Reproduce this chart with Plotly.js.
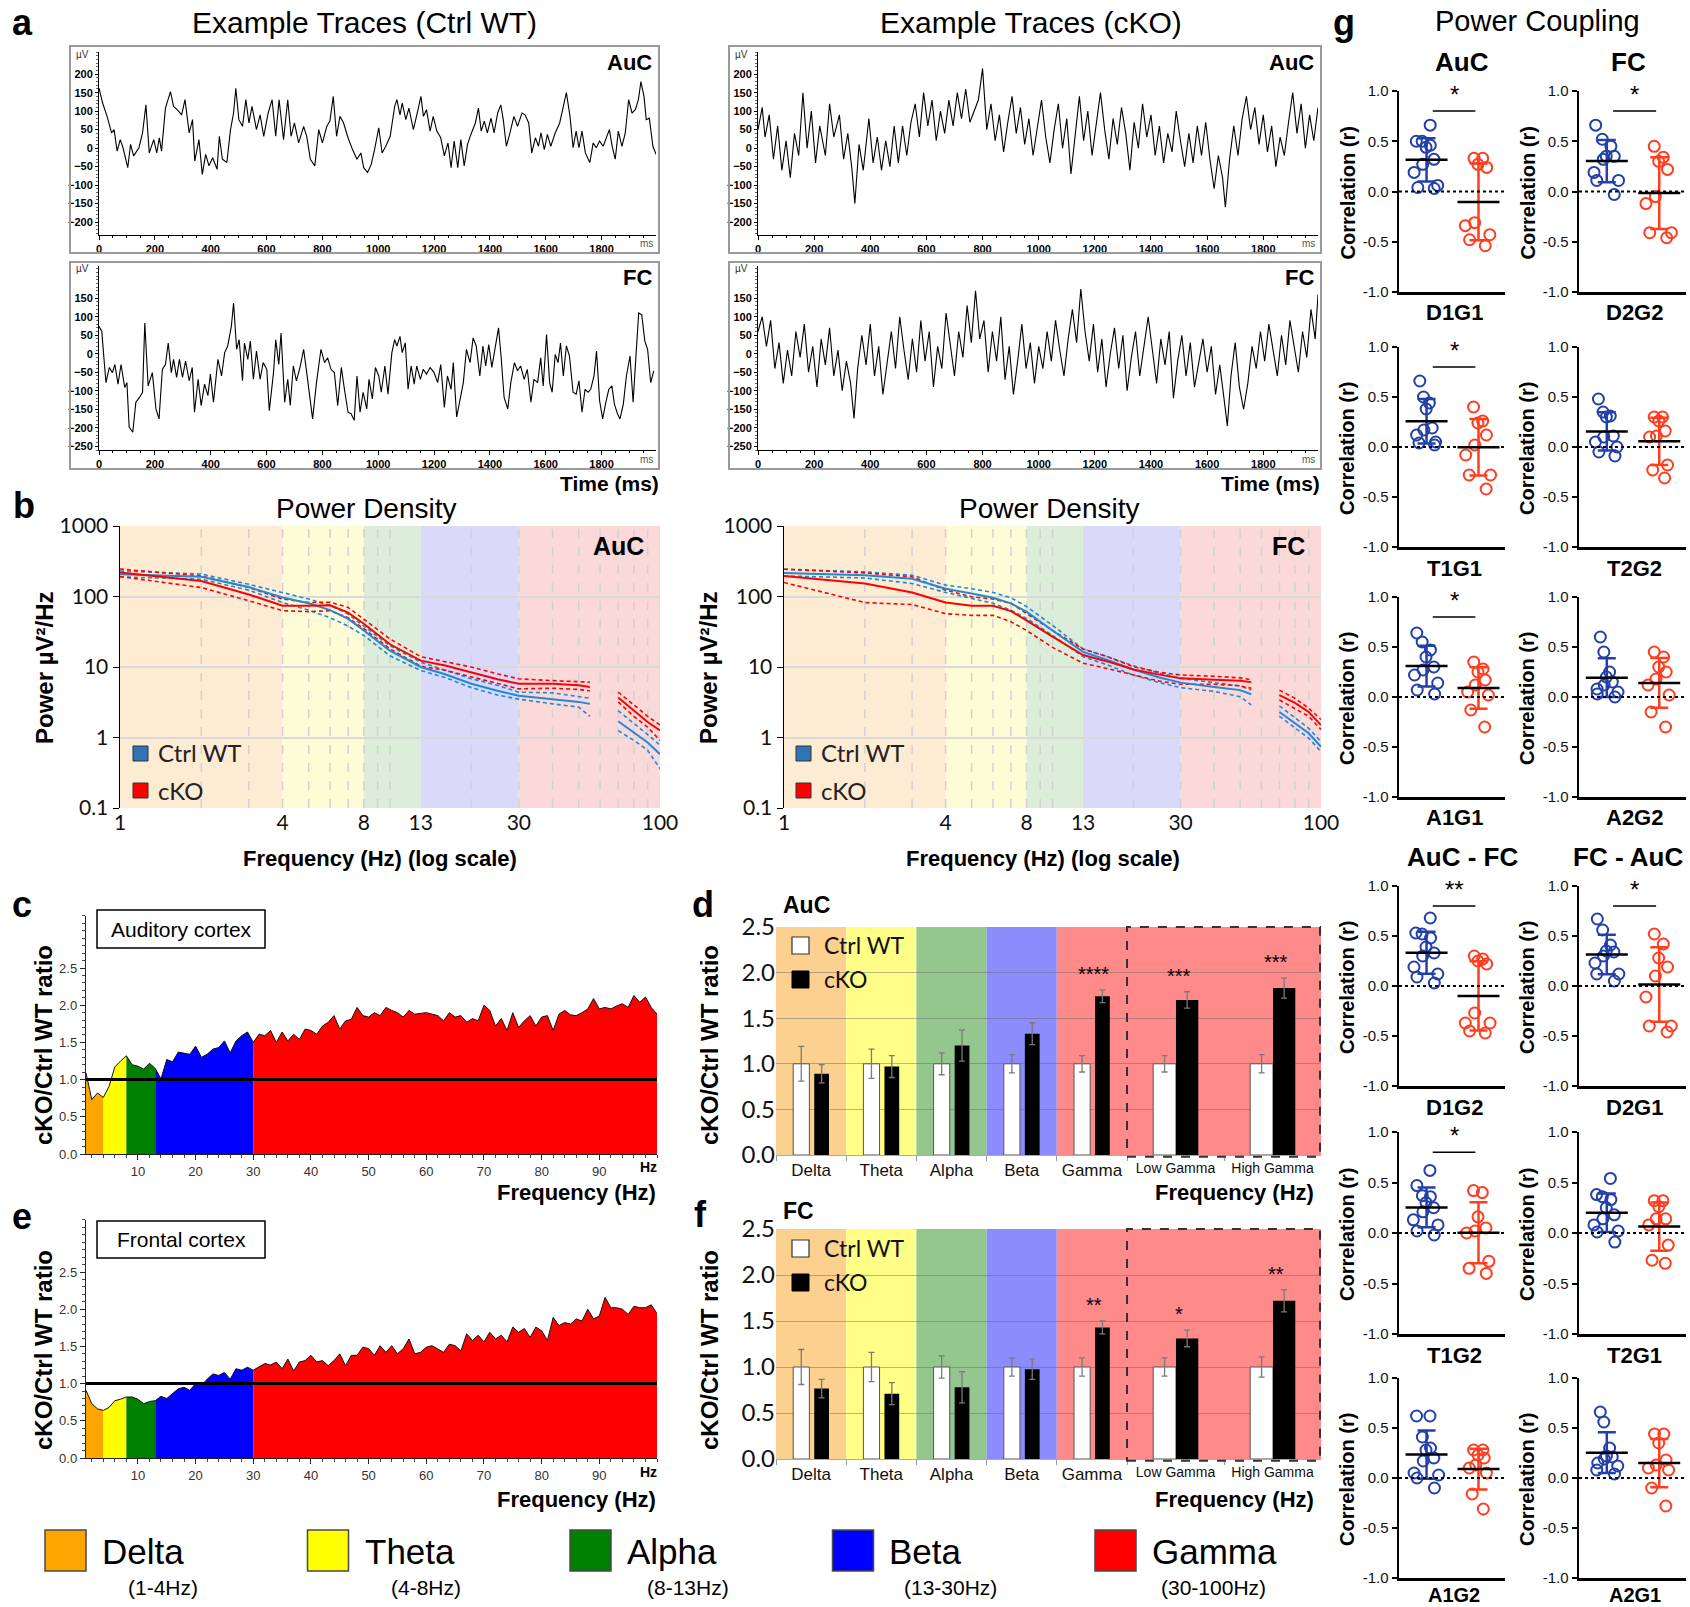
<!DOCTYPE html>
<html>
<head>
<meta charset="utf-8">
<script src="https://cdn.plot.ly/plotly-3.0.1.min.js"></script>
<style>html,body{margin:0;padding:0;background:#fff;}#chart{width:1690px;height:1607px;}</style>
</head>
<body>
<div id="chart"></div>
<script>
/* ================= DATA ================= */
// a: example traces  [time (ms), amplitude (µV)]
const traceWtAuc = [[0,162],[13,122],[29,86],[45,41],[54,50],[65,-8],[76,23],[86,1],[103,-53],[113,10],[124,-21],[143,1],[156,41],[168,117],[180,-13],[196,23],[207,-13],[216,28],[224,-8],[238,108],[256,153],[267,113],[280,104],[296,90],[308,131],[323,41],[335,77],[343,-35],[358,23],[370,-71],[382,-17],[394,-48],[407,-26],[423,-57],[431,32],[442,-30],[458,-39],[471,50],[482,95],[490,162],[501,77],[514,59],[526,131],[537,68],[548,113],[564,50],[577,90],[590,32],[606,95],[620,131],[633,32],[645,131],[661,23],[676,131],[688,32],[700,68],[715,14],[733,59],[744,32],[757,-30],[773,-48],[787,50],[800,14],[816,59],[827,73],[839,140],[851,32],[863,86],[876,68],[892,28],[908,-4],[924,-30],[938,-13],[948,-53],[962,-66],[975,-44],[987,-4],[1002,55],[1014,-13],[1027,5],[1043,32],[1059,113],[1067,131],[1078,90],[1086,122],[1099,77],[1110,108],[1126,50],[1141,99],[1153,140],[1162,86],[1173,104],[1186,46],[1197,86],[1210,46],[1224,28],[1237,-21],[1250,14],[1261,-53],[1272,19],[1285,-53],[1296,23],[1308,-48],[1320,10],[1332,37],[1348,68],[1359,108],[1369,46],[1380,73],[1391,41],[1404,81],[1415,41],[1428,95],[1439,117],[1448,77],[1459,5],[1472,41],[1486,86],[1499,59],[1515,95],[1526,90],[1539,68],[1550,-13],[1563,28],[1574,5],[1583,41],[1595,-4],[1606,37],[1618,5],[1634,41],[1650,68],[1663,108],[1674,150],[1687,86],[1698,1],[1709,46],[1719,1],[1730,46],[1742,-13],[1758,-39],[1770,14],[1781,1],[1793,19],[1806,5],[1817,28],[1828,50],[1838,5],[1849,-30],[1860,46],[1873,5],[1885,41],[1897,131],[1909,95],[1921,104],[1932,131],[1941,180],[1952,140],[1960,77],[1971,81],[1984,5],[1995,-17]];
const traceWtFc = [[0,74],[10,61],[17,-6],[25,-78],[37,-37],[48,-51],[57,-29],[68,-82],[79,-29],[92,-91],[100,-78],[108,-198],[121,-212],[132,-131],[145,-118],[156,-104],[164,83],[176,-87],[191,-51],[204,-149],[215,-176],[227,-42],[238,-29],[248,29],[259,-51],[267,-15],[278,-64],[288,-15],[299,-64],[310,-20],[323,-73],[334,-37],[342,-158],[355,-69],[366,-140],[378,-82],[390,-113],[399,-55],[410,-131],[426,-15],[439,-60],[450,3],[461,21],[474,74],[482,137],[493,12],[502,38],[514,-73],[521,29],[533,-15],[542,34],[553,-69],[564,7],[577,-69],[588,-24],[601,-42],[610,-154],[625,-51],[633,38],[644,-29],[652,56],[665,-131],[676,-69],[685,-140],[696,-33],[707,-73],[720,-37],[733,12],[744,-51],[755,-113],[765,-176],[779,-78],[795,12],[808,-24],[819,-11],[831,-42],[843,-51],[855,-140],[868,-37],[879,-96],[892,-158],[903,-162],[914,-180],[924,-60],[935,-158],[946,-104],[959,-149],[967,-69],[979,-122],[990,-37],[1002,-60],[1011,-104],[1024,-33],[1035,-109],[1049,3],[1059,38],[1067,21],[1078,47],[1086,3],[1097,29],[1107,-96],[1118,-33],[1129,-82],[1138,-33],[1151,-69],[1161,-42],[1173,-55],[1186,-37],[1200,-51],[1213,-78],[1224,-29],[1237,-145],[1248,-60],[1261,-96],[1269,-24],[1281,-171],[1293,-127],[1305,-78],[1316,12],[1329,-24],[1340,43],[1351,21],[1364,-60],[1375,21],[1385,-33],[1396,25],[1407,-37],[1420,21],[1431,70],[1440,-6],[1451,-118],[1464,-149],[1475,-78],[1488,-24],[1499,-46],[1510,-33],[1523,-69],[1534,-42],[1547,-131],[1558,-69],[1571,-78],[1582,-11],[1591,-87],[1603,52],[1614,-78],[1623,-104],[1634,-2],[1644,-24],[1653,29],[1663,-60],[1674,21],[1685,-6],[1698,-104],[1709,-109],[1719,-73],[1730,-158],[1741,-96],[1752,-104],[1761,-96],[1773,-60],[1782,7],[1793,-127],[1804,-176],[1814,-136],[1826,-96],[1837,-87],[1846,-136],[1857,-162],[1866,-176],[1878,-136],[1889,-60],[1902,-6],[1913,-131],[1924,3],[1933,110],[1944,105],[1955,34],[1965,12],[1976,-78],[1987,-46]];
const traceKoAuc = [[0,50],[15,110],[25,30],[40,90],[55,-30],[70,60],[85,-60],[100,20],[115,-80],[130,40],[145,-20],[160,150],[175,0],[190,100],[205,-40],[220,60],[240,-20],[255,120],[270,30],[290,90],[305,-30],[320,40],[335,-60],[345,-150],[360,10],[375,-60],[395,80],[410,-40],[425,30],[440,-60],[455,20],[470,-50],[485,60],[500,-40],[515,60],[530,-20],[545,70],[560,120],[575,30],[590,150],[605,60],[620,130],[635,20],[650,100],[665,40],[680,130],[695,60],[710,150],[725,80],[740,160],[755,70],[770,100],[785,130],[800,215],[815,50],[830,120],[845,20],[860,90],[875,-10],[890,70],[905,140],[920,40],[935,110],[950,10],[965,80],[980,-20],[995,60],[1010,130],[1025,30],[1040,-40],[1055,50],[1070,120],[1085,0],[1100,80],[1115,-70],[1130,40],[1145,140],[1160,20],[1175,100],[1190,-20],[1205,60],[1220,150],[1235,50],[1250,-30],[1265,80],[1280,10],[1295,110],[1310,40],[1325,-60],[1340,70],[1355,0],[1370,120],[1385,30],[1400,90],[1415,-20],[1430,60],[1445,-40],[1460,40],[1475,-10],[1490,100],[1505,20],[1520,-50],[1535,40],[1550,-40],[1565,60],[1580,-20],[1595,70],[1610,-30],[1625,-110],[1640,-20],[1655,-80],[1665,-160],[1680,-30],[1695,60],[1710,-20],[1725,80],[1740,140],[1755,50],[1770,110],[1785,10],[1800,90],[1815,-10],[1830,60],[1845,-50],[1860,30],[1875,-20],[1890,70],[1905,150],[1920,40],[1935,120],[1950,0],[1965,90],[1980,20],[1995,110]];
const traceKoFc = [[0,60],[15,100],[30,20],[45,90],[60,-40],[75,30],[90,-80],[105,10],[120,-60],[135,60],[150,-10],[165,80],[180,-50],[195,20],[210,-90],[225,40],[240,-30],[255,70],[270,-60],[285,10],[300,-100],[315,-20],[330,-80],[342,-175],[355,-40],[370,50],[385,-30],[400,80],[415,-60],[430,20],[445,-110],[460,-20],[475,60],[490,-40],[505,100],[520,10],[535,-70],[550,40],[565,-50],[580,90],[595,-20],[610,60],[625,-90],[640,20],[655,-40],[670,110],[685,20],[700,-60],[715,60],[730,-10],[745,130],[760,30],[775,170],[790,40],[805,90],[820,-50],[835,60],[850,-20],[865,100],[880,-70],[895,20],[910,-110],[925,-20],[940,80],[955,-40],[970,30],[985,-80],[1000,20],[1015,-40],[1030,60],[1045,-20],[1060,90],[1075,10],[1090,-60],[1105,40],[1120,120],[1135,30],[1150,175],[1165,60],[1180,-20],[1195,80],[1210,-50],[1225,40],[1240,-90],[1255,0],[1270,70],[1285,-40],[1300,50],[1315,-100],[1330,-10],[1345,60],[1360,-60],[1375,20],[1390,100],[1405,10],[1420,-80],[1435,40],[1450,-30],[1465,60],[1480,-120],[1495,-20],[1510,50],[1525,-60],[1540,30],[1555,-90],[1570,-20],[1585,40],[1600,-50],[1615,20],[1630,-110],[1645,-30],[1660,-120],[1672,-195],[1685,-60],[1700,30],[1715,-90],[1730,-150],[1745,-80],[1760,20],[1775,-40],[1790,60],[1805,-20],[1820,80],[1835,10],[1850,-60],[1865,50],[1880,-30],[1895,90],[1910,20],[1925,-50],[1940,60],[1955,-10],[1970,120],[1985,40],[1995,160]];

// b: power spectral density (µV²/Hz); null = notch gap
const psdFreq = [1,2,3,4,5,6,7,8,10,13,16,20,25,30,40,50,55,60,70,80,90,100];
const psdAucWtMean = [207,190,136,97,80,64,48,33,17,10,7.9,5.8,4.6,3.9,3.5,3.2,3.0,null,1.7,1.18,0.85,0.58];
const psdAucWtUp   = [230,208,149,114,92,75,56,38,20,11.7,9.1,6.8,5.5,4.4,4.3,3.8,3.6,null,2.4,1.6,1.1,0.78];
const psdAucWtLo   = [190,176,123,82,64,50,38,28,14.4,8.9,7.1,5.1,4.0,3.5,3.0,2.7,2.0,null,1.25,0.91,0.66,0.36];
const psdAucKoMean = [219,166,107,74,74,75,59,41,21,12.3,10.5,8.4,6.7,5.8,5.8,5.5,5.2,null,3.7,2.4,1.66,1.26];
const psdAucKoUp   = [245,196,134,92,82,83,70,48,25,14,11.8,10,8,6.8,6.4,6.1,6.1,null,4.4,2.9,2.0,1.5];
const psdAucKoLo   = [192,134,87,63,61,63,50,35,18,10.3,9,7.3,5.9,4.9,5.0,4.8,4.6,null,3.2,2.0,1.4,0.91];
const psdFcWtMean  = [216,200,179,129,110,96,80,61,33,16.4,12.6,9.2,7.1,6.0,5.2,4.7,4.1,null,2.3,1.6,1.15,0.74];
const psdFcWtUp    = [244,224,200,145,129,114,96,72,39,18,14,10.4,8.2,6.9,6.0,5.4,4.7,null,2.8,1.9,1.35,0.87];
const psdFcWtLo    = [196,183,153,114,94,80,64,49,28,14,10.7,7.7,6.0,5.1,4.5,3.8,2.9,null,2.0,1.35,0.98,0.63];
const psdFcKoMean  = [196,153,114,82,74,74,62,46,27,14.8,12,9.2,7.8,6.9,6.6,6.4,6.1,null,4.0,3.1,2.3,1.5];
const psdFcKoUp    = [244,216,190,123,99,92,80,57,33,18,14,10.1,8.4,7.7,7.4,7.0,6.6,null,4.7,3.6,2.6,1.8];
const psdFcKoLo    = [158,82,77,57,54,54,44,33,19,11.3,9.5,7.7,6.3,5.7,5.7,5.4,5.0,null,3.4,2.6,2.0,1.3];
const psdGridFreq  = [2,3,4,5,6,7,8,9,10,20,30,40,50,60,70,80,90];

// c, e: cKO / Ctrl WT power ratio
const ratioFreq = [1,2,3,4,5,6,7,8,9,10,11,12,13,14,15,16,17,18,19,20,21,22,23,24,25,26,27,28,29,30,31,32,33,34,35,36,37,38,39,40,41,42,43,44,45,46,47,48,49,50,51,52,53,54,55,56,57,58,59,60,61,62,63,64,65,66,67,68,69,70,71,72,73,74,75,76,77,78,79,80,81,82,83,84,85,86,87,88,89,90,91,92,93,94,95,96,97,98,99,100];
const ratioAuc = [1.09,0.73,0.82,0.76,0.91,1.17,1.25,1.32,1.20,1.18,1.14,1.22,1.15,1.01,1.27,1.24,1.37,1.36,1.34,1.45,1.30,1.34,1.41,1.43,1.52,1.36,1.52,1.59,1.64,1.50,1.61,1.59,1.66,1.50,1.64,1.52,1.61,1.54,1.68,1.66,1.61,1.72,1.77,1.86,1.68,1.79,1.81,1.97,1.86,1.84,1.90,1.86,1.97,1.93,1.90,1.84,1.93,1.88,1.89,1.90,1.88,1.86,1.79,1.90,1.84,1.86,1.77,1.82,1.79,2.00,1.93,1.72,1.82,1.66,1.90,1.70,1.79,1.86,1.72,1.84,1.86,1.66,1.88,1.93,1.87,1.86,1.90,1.95,2.09,1.95,1.97,1.95,1.99,2.02,1.97,2.13,2.04,2.11,1.97,1.88];
const ratioFc = [0.91,0.73,0.66,0.64,0.68,0.77,0.79,0.82,0.82,0.79,0.73,0.76,0.77,0.83,0.80,0.86,0.93,0.95,0.91,1.00,0.97,1.06,1.13,1.11,1.15,1.06,1.20,1.18,1.22,1.18,1.22,1.27,1.25,1.29,1.20,1.33,1.17,1.29,1.31,1.38,1.29,1.31,1.24,1.31,1.40,1.24,1.38,1.38,1.49,1.47,1.38,1.51,1.42,1.51,1.40,1.47,1.60,1.40,1.42,1.49,1.51,1.47,1.42,1.53,1.51,1.44,1.67,1.58,1.65,1.56,1.69,1.60,1.65,1.56,1.76,1.69,1.74,1.62,1.76,1.71,1.58,1.89,1.78,1.82,1.80,1.87,1.84,2.00,1.87,1.91,2.16,2.02,2.02,2.00,1.93,2.04,2.02,2.02,2.06,1.94];
const bandEdges = [1,4,8,13,30,100];

// d, f: band power ratio (mean, SEM)
const bandNames = ['Delta','Theta','Alpha','Beta','Gamma'];
const gammaSubNames = ['Low Gamma','High Gamma'];
const aucWtMean = [1,1,1,1,1];            const aucWtErr = [0.19,0.16,0.12,0.10,0.09];
const aucKoMean = [0.89,0.97,1.20,1.33,1.74]; const aucKoErr = [0.10,0.12,0.17,0.12,0.07];
const aucSubWtMean = [1,1];               const aucSubWtErr = [0.09,0.10];
const aucSubKoMean = [1.70,1.83];         const aucSubKoErr = [0.09,0.11];
const aucSig = ['','','','','****'];      const aucSubSig = ['***','***'];
const fcWtMean = [1,1,1,1,1];             const fcWtErr = [0.19,0.16,0.12,0.10,0.10];
const fcKoMean = [0.765,0.71,0.78,0.975,1.43]; const fcKoErr = [0.10,0.12,0.17,0.11,0.07];
const fcSubWtMean = [1,1];                const fcSubWtErr = [0.10,0.11];
const fcSubKoMean = [1.31,1.72];          const fcSubKoErr = [0.09,0.12];
const fcSig = ['','','','','**'];         const fcSubSig = ['*','**'];

// g: power coupling correlations (r) per animal
const couplingNames = ['D1G1','D2G2','T1G1','T2G2','A1G1','A2G2','D1G2','D2G1','T1G2','T2G1','A1G2','A2G1'];
const couplingWt = [
 [0.66,0.50,0.50,0.46,0.44,0.32,0.27,0.19,0.06,0.03,0.04],
 [0.66,0.52,0.45,0.35,0.35,0.32,0.19,0.11,0.11,-0.03],
 [0.66,0.50,0.44,0.38,0.19,0.17,0.12,0.05,0.04,0.02],
 [0.48,0.35,0.31,0.30,0.10,0.11,0.05,0.00,-0.05,-0.09],
 [0.64,0.55,0.47,0.40,0.30,0.27,0.22,0.14,0.07,0.03],
 [0.60,0.45,0.25,0.20,0.15,0.12,0.08,0.05,0.03,0.00],
 [0.68,0.53,0.52,0.48,0.39,0.33,0.30,0.19,0.12,0.09,0.03],
 [0.67,0.56,0.41,0.35,0.34,0.30,0.23,0.12,0.12,0.05],
 [0.62,0.47,0.37,0.36,0.30,0.25,0.21,0.13,0.08,0.02,-0.02],
 [0.54,0.38,0.36,0.33,0.25,0.18,0.14,0.08,0.02,0.01,-0.09],
 [0.62,0.62,0.41,0.30,0.28,0.17,0.20,0.05,0.03,0.00,-0.10],
 [0.66,0.56,0.30,0.22,0.21,0.19,0.15,0.12,0.08,0.04]
];
const couplingKo = [
 [0.33,0.33,0.27,0.24,-0.31,-0.34,-0.43,-0.48,-0.54],
 [0.45,0.34,0.30,0.22,-0.05,-0.12,-0.41,-0.41,-0.46],
 [0.40,0.26,0.24,0.12,0.02,-0.08,-0.28,-0.28,-0.42],
 [0.30,0.30,0.26,0.16,0.11,0.10,-0.18,-0.23,-0.31],
 [0.35,0.28,0.25,0.17,0.12,0.05,0.02,-0.13,-0.30],
 [0.45,0.40,0.30,0.25,0.18,0.12,0.02,-0.15,-0.30],
 [0.30,0.27,0.25,0.22,-0.27,-0.37,-0.37,-0.45,-0.47],
 [0.52,0.42,0.28,0.19,0.10,-0.11,-0.40,-0.40,-0.46],
 [0.42,0.40,0.16,0.05,0.02,0.00,-0.28,-0.35,-0.40],
 [0.32,0.32,0.26,0.14,0.14,0.08,-0.12,-0.27,-0.30],
 [0.28,0.28,0.23,0.20,0.13,0.10,0.05,-0.16,-0.31],
 [0.44,0.44,0.35,0.18,0.13,0.10,0.08,-0.10,-0.28]
];
const couplingSig = ['*','*','*','','*','','**','*','*','','',''];

const legendBands = ['Delta','Theta','Alpha','Beta','Gamma'];
const legendRanges = ['(1-4Hz)','(4-8Hz)','(8-13Hz)','(13-30Hz)','(30-100Hz)'];

/* ================= STYLE / LAYOUT ================= */
const W = 1690, H = 1607;
const PX = x => x / W, PY = y => 1 - y / H;
const FONT = '"Liberation Sans", Arial, sans-serif';
const CAL = 'Lato, "Open Sans", sans-serif';
const bandSolid = ['#FFA500','#FFFF00','#008000','#0000FF','#FF0000'];
const bandPastel = ['#FDEBD4','#FEFCD6','#DCEDD9','#D9D9FA','#FBD9D9'];
const bandBar = ['#FCD08E','#FFFF88','#93C78E','#8C8CFC','#FF8A8A'];
const WT_LINE = '#2088D8', KO_LINE = '#FF0000';
const G_BLUE = '#2340A8', G_RED = '#FF3D1F';

const data = [];
const layout = {
  width: W, height: H, margin: {l:0, r:0, t:0, b:0},
  paper_bgcolor: '#fff', plot_bgcolor: 'rgba(0,0,0,0)',
  showlegend: false, hovermode: false,
  font: {family: FONT, color: '#000'},
  annotations: [], shapes: []
};
function ann(text, x, y, font, o) {
  layout.annotations.push(Object.assign({xref:'paper', yref:'paper', x:PX(x), y:PY(y), text,
    showarrow:false, xanchor:'center', yanchor:'middle', font:Object.assign({family:FONT, size:14, color:'#000'}, font)}, o || {}));
}
function rectPx(x0, y0, x1, y1, o) {
  layout.shapes.push(Object.assign({type:'rect', xref:'paper', yref:'paper', x0:PX(x0), x1:PX(x1), y0:PY(y1), y1:PY(y0)}, o));
}
let nAx = 0;
function axes(x0, x1, y0, y1, xo, yo) {
  nAx++;
  const s = nAx === 1 ? '' : String(nAx);
  layout['xaxis' + s] = Object.assign({domain:[PX(x0), PX(x1)], anchor:'y' + s, showgrid:false, zeroline:false}, xo);
  layout['yaxis' + s] = Object.assign({domain:[PY(y1), PY(y0)], anchor:'x' + s, showgrid:false, zeroline:false}, yo);
  return {xa:'x' + s, ya:'y' + s};
}

/* ---------- panel labels & titles ---------- */
const PL = {size:36, weight:'bold'};
ann('a', 22, 22, PL); ann('b', 24, 505, PL); ann('c', 22, 905, PL); ann('d', 703, 905, PL);
ann('e', 22, 1216, PL); ann('f', 700, 1214, PL); ann('g', 1344, 22, PL);
ann('Example Traces (Ctrl WT)', 364, 22, {size:30});
ann('Example Traces (cKO)', 1031, 22, {size:30});
ann('Time (ms)', 661, 483, {size:21, weight:'bold'}, {xanchor:'right'});
ann('Time (ms)', 1322, 483, {size:21, weight:'bold'}, {xanchor:'right'});

/* ---------- a: traces ---------- */
const aPanels = [
  {tr:traceWtAuc, x:[99,656], y:[52,235], box:[70,46,659,253], yr:[-235,260], yt:[-200,-150,-100,-50,0,50,100,150,200], lab:'AuC'},
  {tr:traceWtFc,  x:[99,656], y:[266,450], box:[70,262,659,469], yr:[-260,237], yt:[-250,-200,-150,-100,-50,0,50,100,150], lab:'FC'},
  {tr:traceKoAuc, x:[758,1318], y:[52,235], box:[729,46,1321,253], yr:[-235,260], yt:[-200,-150,-100,-50,0,50,100,150,200], lab:'AuC'},
  {tr:traceKoFc,  x:[758,1318], y:[266,450], box:[729,262,1321,469], yr:[-260,237], yt:[-250,-200,-150,-100,-50,0,50,100,150], lab:'FC'}
];
aPanels.forEach(p => {
  const tf = {family:FONT, size:11, weight:'bold', color:'#000'};
  const ax = axes(p.x[0], p.x[1], p.y[0], p.y[1],
    {range:[0,1995], tickvals:[0,200,400,600,800,1000,1200,1400,1600,1800], showline:true, linecolor:'#000', linewidth:1,
     ticks:'outside', ticklen:4, tickcolor:'#000', tickfont:tf, minor:{dtick:50, ticks:'outside', ticklen:2, tickcolor:'#000'}},
    {range:p.yr, tickvals:p.yt, showline:true, linecolor:'#000', linewidth:1,
     ticks:'outside', ticklen:3, tickcolor:'#000', tickfont:tf, minor:{dtick:10, ticks:'outside', ticklen:2, tickcolor:'#666'}});
  data.push({type:'scatter', mode:'lines', x:p.tr.map(d => d[0]), y:p.tr.map(d => d[1]), xaxis:ax.xa, yaxis:ax.ya,
    line:{color:'#000', width:1.1}});
  rectPx(p.box[0], p.box[1], p.box[2], p.box[3], {line:{color:'#9a9a9a', width:2}});
  ann(p.lab, p.x[1] - 2, p.y[0] + 11, {size:22, weight:'bold'}, {xanchor:'right'});
  ann('µV', p.box[0] + 12, p.y[0] + 2, {size:10, color:'#333'});
  ann('ms', p.x[1] - 10, p.y[1] + 9, {size:10, color:'#555'});
});

/* ---------- b: power density ---------- */
function psdPanel(x0, x1, s, lab, legX, titleX) {
  const tf = {family:CAL, size:21, color:'#111'};
  const ax = axes(x0, x1, 526, 808,
    {type:'log', range:[0,2], tickvals:[1,4,8,13,30,100], ticktext:['1','4','8','13','30','100'], tickfont:tf,
     ticks:'', showline:false, showgrid:false},
    {type:'log', range:[-1,3], tickvals:[0.1,1,10,100,1000], ticktext:['0.1','1','10','100','1000'], tickfont:tf,
     showgrid:true, gridcolor:'#d9d9d9', gridwidth:2, showline:true, linecolor:'#000', linewidth:1.5,
     ticks:'outside', ticklen:6, tickcolor:'#000'});
  for (let i = 0; i < 5; i++) {
    layout.shapes.push({type:'rect', xref:ax.xa, yref:ax.ya + ' domain', x0:bandEdges[i], x1:bandEdges[i+1],
      y0:0, y1:1, fillcolor:bandPastel[i], line:{width:0}, layer:'below'});
  }
  psdGridFreq.forEach(f => layout.shapes.push({type:'line', xref:ax.xa, yref:ax.ya + ' domain', x0:f, x1:f, y0:0, y1:1,
    line:{color:'#d2d2d2', width:1.5, dash:'dash'}, layer:'below'}));
  const dash = '4px,3px';
  [[s.wtUp, WT_LINE, dash, 1.6], [s.wtLo, WT_LINE, dash, 1.6], [s.koUp, KO_LINE, dash, 1.6], [s.koLo, KO_LINE, dash, 1.6],
   [s.wtMean, WT_LINE, 'solid', 2], [s.koMean, KO_LINE, 'solid', 2]].forEach(t => {
    data.push({type:'scatter', mode:'lines', x:psdFreq, y:t[0], xaxis:ax.xa, yaxis:ax.ya, connectgaps:false,
      line:{color:t[1], width:t[3], dash:t[2]}});
  });
  ann('Power Density', titleX, 508, {size:28});
  ann(lab, x1 - 14, 546, {size:25, weight:'bold'}, {xanchor:'right'});
  ann('Frequency (Hz) (log scale)', (x0 + x1) / 2 - 10, 858, {size:22, weight:'bold'});
  ann('Power µV²/Hz', x0 - 76, 668, {size:24, weight:'bold'}, {textangle:-90});
  rectPx(legX, 746, legX + 15, 761, {fillcolor:'#2E75B6', line:{color:'#333', width:1}});
  rectPx(legX, 783, legX + 15, 798, {fillcolor:'#FF0000', line:{color:'#333', width:1}});
  ann('Ctrl WT', legX + 23, 753, {family:CAL, size:24, color:'#222'}, {xanchor:'left'});
  ann('cKO', legX + 23, 790, {family:CAL, size:24, color:'#222'}, {xanchor:'left'});
}
psdPanel(120, 660, {wtMean:psdAucWtMean, wtUp:psdAucWtUp, wtLo:psdAucWtLo, koMean:psdAucKoMean, koUp:psdAucKoUp, koLo:psdAucKoLo}, 'AuC', 133, 366);
psdPanel(784, 1321, {wtMean:psdFcWtMean, wtUp:psdFcWtUp, wtLo:psdFcWtLo, koMean:psdFcKoMean, koUp:psdFcKoUp, koLo:psdFcKoLo}, 'FC', 796, 1049);

/* ---------- c, e: ratio spectra ---------- */
function ratioPanel(yZero, ratio, boxText, box, hzY, titleY, ytitleY) {
  const unit = 186 / 2.5; // px per ratio unit
  const top = 3.2;
  const ax = axes(86, 657, yZero - top * unit, yZero,
    {range:[1,100], tickvals:[10,20,30,40,50,60,70,80,90], showline:true, linecolor:'#222', linewidth:1.2,
     ticks:'outside', ticklen:5, tickcolor:'#222', tickfont:{family:FONT, size:13, color:'#333'},
     minor:{dtick:2, tick0:0, ticks:'outside', ticklen:3, tickcolor:'#444'}},
    {range:[0,top], tickvals:[0,0.5,1,1.5,2,2.5], ticktext:['0.0','0.5','1.0','1.5','2.0','2.5'], showline:true, linecolor:'#222', linewidth:1.2,
     ticks:'outside', ticklen:5, tickcolor:'#222', tickfont:{family:FONT, size:13, color:'#333'},
     minor:{dtick:0.1, ticks:'outside', ticklen:3, tickcolor:'#444'}});
  for (let i = 0; i < 5; i++) {
    const xs = [], ys = [];
    ratioFreq.forEach((f, k) => { if (f >= bandEdges[i] && f <= bandEdges[i+1]) { xs.push(f); ys.push(ratio[k]); } });
    data.push({type:'scatter', mode:'lines', x:xs, y:ys, xaxis:ax.xa, yaxis:ax.ya, fill:'tozeroy',
      fillcolor:bandSolid[i], line:{width:0, color:bandSolid[i]}});
  }
  data.push({type:'scatter', mode:'lines', x:ratioFreq, y:ratio, xaxis:ax.xa, yaxis:ax.ya, line:{color:'#111', width:1}});
  layout.shapes.push({type:'line', xref:ax.xa, yref:ax.ya, x0:1, x1:100, y0:1, y1:1, line:{color:'#000', width:3}});
  rectPx(box[0], box[1], box[2], box[3], {fillcolor:'#fff', line:{color:'#000', width:1.5}});
  ann(boxText, (box[0] + box[2]) / 2, (box[1] + box[3]) / 2, {size:21});
  ann('Hz', 648, hzY, {size:14, weight:'bold'});
  ann('Frequency (Hz)', 658, titleY, {size:22, weight:'bold'}, {xanchor:'right'});
  ann('cKO/Ctrl WT ratio', 43, ytitleY, {size:24, weight:'bold'}, {textangle:-90});
}
ratioPanel(1154, ratioAuc, 'Auditory cortex', [97,910,265,948], 1167, 1192, 1045);
ratioPanel(1458, ratioFc, 'Frontal cortex', [97,1221,265,1258], 1472, 1499, 1350);

/* ---------- d, f: band ratio bars ---------- */
function barPanel(yTop, yBot, wtM, wtE, koM, koE, sig, sWtM, sWtE, sKoM, sKoE, sSig, lab, labY, legY, titleY, ytitleY) {
  const yo = (show) => ({range:[0,2.5], tickvals:[0,0.5,1,1.5,2,2.5], ticktext:['0.0','0.5','1.0','1.5','2.0','2.5'],
    showticklabels:show, tickfont:{family:CAL, size:24, color:'#111'}, ticks:'', showline:false,
    showgrid:true, gridcolor:'rgba(100,100,100,0.45)', gridwidth:1});
  const xo = (sz) => ({type:'category', tickfont:{family:FONT, size:sz, color:'#111'}, showline:true, linecolor:'#aaa', linewidth:1,
    ticks:'outside', tickson:'boundaries', ticklen:5, tickcolor:'#999'});
  const a1 = axes(776, 1127, yTop, yBot, xo(17), yo(true));
  const a2 = axes(1127, 1321, yTop, yBot, xo(14), yo(false));
  for (let i = 0; i < 5; i++) {
    layout.shapes.push({type:'rect', xref:a1.xa, yref:a1.ya + ' domain', x0:i - 0.5, x1:i + 0.5, y0:0, y1:1,
      fillcolor:bandBar[i], line:{width:0}, layer:'below'});
  }
  layout.shapes.push({type:'rect', xref:a2.xa + ' domain', yref:a2.ya + ' domain', x0:0, x1:1, y0:0, y1:1,
    fillcolor:bandBar[4], line:{width:0}, layer:'below'});
  layout.shapes.push({type:'rect', xref:a2.xa + ' domain', yref:a2.ya + ' domain', x0:0, x1:0.995, y0:-0.008, y1:1,
    line:{color:'#333', width:2, dash:'dash'}});
  const eb = (arr) => ({type:'data', array:arr, color:'#7a7a7a', thickness:1.3, width:3});
  const wtBar = {color:'#fff', line:{color:'#555', width:1}};
  data.push({type:'bar', x:bandNames, y:wtM, xaxis:a1.xa, yaxis:a1.ya, width:0.23, offset:-0.255, marker:wtBar, error_y:eb(wtE)});
  data.push({type:'bar', x:bandNames, y:koM, xaxis:a1.xa, yaxis:a1.ya, width:0.21, offset:0.045, marker:{color:'#000'}, error_y:eb(koE)});
  data.push({type:'bar', x:gammaSubNames, y:sWtM, xaxis:a2.xa, yaxis:a2.ya, width:0.235, offset:-0.23, marker:wtBar, error_y:eb(sWtE)});
  data.push({type:'bar', x:gammaSubNames, y:sKoM, xaxis:a2.xa, yaxis:a2.ya, width:0.23, offset:0.005, marker:{color:'#000'}, error_y:eb(sKoE)});
  bandNames.forEach((n, i) => { if (sig[i]) layout.annotations.push({xref:a1.xa, yref:a1.ya, x:n, y:koM[i] + koE[i] + 0.03, xshift:2,
    text:sig[i], showarrow:false, yanchor:'bottom', font:{family:FONT, size:20, color:'#000'}}); });
  gammaSubNames.forEach((n, i) => { if (sSig[i]) layout.annotations.push({xref:a2.xa, yref:a2.ya, x:n, y:sKoM[i] + sKoE[i] + 0.03, xshift:3,
    text:sSig[i], showarrow:false, yanchor:'bottom', font:{family:FONT, size:20, color:'#000'}}); });
  ann(lab, 781, labY, {size:23, weight:'bold'}, {xanchor:'left'});
  rectPx(792, legY - 8, 809, legY + 9, {fillcolor:'#fff', line:{color:'#333', width:1.2}});
  rectPx(792, legY + 26, 809, legY + 43, {fillcolor:'#000', line:{color:'#000', width:1}});
  ann('Ctrl WT', 822, legY, {family:CAL, size:23, color:'#111'}, {xanchor:'left'});
  ann('cKO', 822, legY + 34, {family:CAL, size:23, color:'#111'}, {xanchor:'left'});
  ann('Frequency (Hz)', 1316, titleY, {size:22, weight:'bold'}, {xanchor:'right'});
  ann('cKO/Ctrl WT ratio', 709, ytitleY, {size:24, weight:'bold'}, {textangle:-90});
}
barPanel(927, 1155, aucWtMean, aucWtErr, aucKoMean, aucKoErr, aucSig, aucSubWtMean, aucSubWtErr, aucSubKoMean, aucSubKoErr, aucSubSig,
  'AuC', 905, 945, 1192, 1045);
barPanel(1229, 1459, fcWtMean, fcWtErr, fcKoMean, fcKoErr, fcSig, fcSubWtMean, fcSubWtErr, fcSubKoMean, fcSubKoErr, fcSubSig,
  'FC', 1211, 1248, 1499, 1350);

/* ---------- bottom band legend ---------- */
legendBands.forEach((b, i) => {
  const x = 45 + i * 262.5;
  rectPx(x, 1530, x + 41, 1571, {fillcolor:bandSolid[i], line:{color:'#4a4a4a', width:1.5}});
  ann(b, x + 55, 1551, {size:35}, {xanchor:'left'});
  ann(legendRanges[i], x + 118, 1587, {size:21});
});

/* ---------- g: power coupling ---------- */
ann('Power Coupling', 1537, 21, {size:29});
ann('AuC', 1462, 62, {size:26, weight:'bold'}); ann('FC', 1628, 62, {size:26, weight:'bold'});
ann('AuC - FC', 1462, 857, {size:26, weight:'bold'}); ann('FC - AuC', 1628, 857, {size:26, weight:'bold'});
const gRows = [[91,292],[347,547],[597,797],[886,1086],[1132,1334],[1378,1578]];
const gCols = [[1399,1505],[1579,1686]];
const mean = a => a.reduce((s, v) => s + v, 0) / a.length;
const sd = a => { const m = mean(a); return Math.sqrt(a.reduce((s, v) => s + (v - m) * (v - m), 0) / (a.length - 1)); };
couplingNames.forEach((name, k) => {
  const row = Math.floor(k / 2);
  const r = gRows[row], c = gCols[k % 2];
  const ax = axes(c[0], c[1], r[0], r[1],
    {range:[-0.53,1.51], showline:true, linecolor:'#000', linewidth:2.5, ticks:'', showticklabels:false},
    {range:[-1,1], tickvals:[-1,-0.5,0,0.5,1], ticktext:['-1.0','-0.5','0.0','0.5','1.0'], showline:true, linecolor:'#000', linewidth:2.5,
     ticks:'outside', ticklen:5, tickwidth:2, tickcolor:'#000', tickfont:{family:FONT, size:15, color:'#111'}});
  layout.shapes.push({type:'line', xref:ax.xa + ' domain', yref:ax.ya, x0:0, x1:1, y0:0, y1:0, line:{color:'#000', width:2, dash:'dot'}});
  [[couplingWt[k], 0, G_BLUE], [couplingKo[k], 1, G_RED]].forEach(g => {
    data.push({type:'box', y:g[0], x0:g[1], xaxis:ax.xa, yaxis:ax.ya, boxpoints:'all', jitter:0.75, pointpos:0, width:0.8,
      line:{width:0, color:'rgba(0,0,0,0)'}, fillcolor:'rgba(0,0,0,0)',
      marker:{symbol:'circle-open', size:11, color:g[2], line:{width:2, color:g[2]}}});
    data.push({type:'scatter', mode:'markers', x:[g[1]], y:[mean(g[0])], xaxis:ax.xa, yaxis:ax.ya,
      error_y:{type:'data', array:[sd(g[0])], color:g[2], thickness:2.5, width:9},
      marker:{symbol:'line-ew', size:30, color:'#000', line:{width:2.5, color:'#000'}}});
  });
  if (couplingSig[k]) {
    layout.shapes.push({type:'line', xref:ax.xa, yref:ax.ya, x0:0.12, x1:0.94, y0:0.8, y1:0.8, line:{color:'#000', width:1.5}});
    layout.annotations.push({xref:ax.xa, yref:ax.ya, x:0.53, y:0.81, text:couplingSig[k], showarrow:false, yanchor:'bottom',
      font:{family:FONT, size:24, color:'#000'}});
  }
  ann('Correlation (r)', c[0] - 52, (r[0] + r[1]) / 2 + 2, {size:20, weight:'bold'}, {textangle:-90});
  ann(name, (c[0] + c[1]) / 2 + 2, row === 5 ? r[1] + 17 : r[1] + 21, {size:row === 5 ? 20 : 22, weight:'bold'});
});

Plotly.newPlot('chart', data, layout, {staticPlot:true, displayModeBar:false});
</script>
</body>
</html>
